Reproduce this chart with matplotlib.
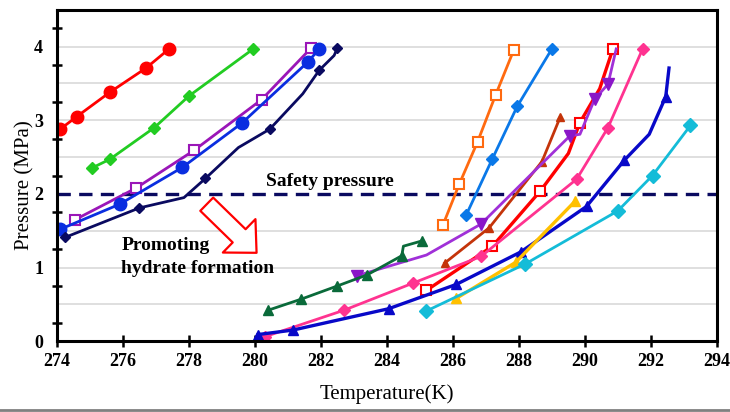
import matplotlib
matplotlib.use('Agg')
import matplotlib.pyplot as plt
from matplotlib.ticker import MultipleLocator, FixedLocator
from matplotlib.lines import Line2D

plt.rcParams['font.family'] = ['Liberation Serif', 'DejaVu Serif']

# temperature (K) / pressure (MPa)
red_T = [274.1, 274.6, 275.6, 276.7, 277.4]
red_P = [2.88, 3.05, 3.38, 3.71, 3.97]

green_T = [275.05, 275.6, 276.95, 278.0, 279.95]
green_P = [2.35, 2.47, 2.90, 3.33, 3.97]

purple_sq_T = [274.55, 276.4, 278.15, 280.2, 281.7]
purple_sq_P = [1.65, 2.08, 2.59, 3.28, 3.98]

blue_circ_T = [274.1, 275.9, 277.8, 279.6, 281.6, 281.95]
blue_circ_P = [1.52, 1.86, 2.36, 2.96, 3.79, 3.97]

navy_T = [274.25, 276.5, 277.85, 278.5, 279.5, 280.45, 281.45, 281.95, 282.4, 282.5]
navy_P = [1.41, 1.81, 1.95, 2.21, 2.63, 2.88, 3.36, 3.68, 3.88, 3.98]
navy_marks = [0, 1, 3, 5, 7, 9]

orange_T = [285.7, 286.2, 286.75, 287.3, 287.85]
orange_P = [1.58, 2.14, 2.71, 3.35, 3.96]

azure_T = [286.4, 287.2, 287.95, 289.0]
azure_P = [1.71, 2.48, 3.19, 3.97]

brown_T = [285.75, 287.1, 288.7, 289.25]
brown_P = [1.06, 1.54, 2.44, 3.04]

redsq_T = [285.2, 287.2, 288.65, 289.5, 289.85, 290.45, 290.85]
redsq_P = [0.69, 1.29, 2.04, 2.55, 2.97, 3.43, 3.97]
redsq_marks = [0, 1, 2, 4, 6]

violet_T = [283.1, 285.2, 286.85, 289.55, 289.85, 290.3, 290.7, 290.95]
violet_P = [0.89, 1.17, 1.59, 2.79, 2.81, 3.29, 3.49, 3.97]
violet_marks = [0, 2, 3, 5, 6]

dkgreen_T = [280.4, 281.4, 282.5, 283.4, 284.45, 284.5, 285.05]
dkgreen_P = [0.42, 0.57, 0.75, 0.90, 1.16, 1.29, 1.36]
dkgreen_marks = [0, 1, 2, 3, 4, 6]

pink_T = [280.3, 282.7, 284.8, 286.85, 289.75, 290.7, 291.75]
pink_P = [0.06, 0.42, 0.79, 1.15, 2.20, 2.90, 3.97]

mblue_T = [280.1, 281.15, 284.05, 286.1, 288.05, 290.05, 291.2, 291.95, 292.45, 292.55]
mblue_P = [0.09, 0.15, 0.44, 0.77, 1.21, 1.83, 2.46, 2.81, 3.32, 3.71]
mblue_marks = [0, 1, 2, 3, 4, 5, 6, 8]

gold_T = [286.1, 287.9, 289.7]
gold_P = [0.58, 1.07, 1.90]

cyan_T = [285.2, 288.2, 291.0, 292.05, 293.2]
cyan_P = [0.41, 1.05, 1.77, 2.25, 2.93]

safety_P = 2.0

fig = plt.figure(figsize=(7.3, 4.12), dpi=100)
ax = fig.add_axes([0.078, 0.172, 0.904, 0.804])

lw = 2.0
ax.plot(red_T, red_P, color='#ff0000', lw=lw, marker='o', ms=9)
ax.plot(green_T, green_P, color='#22cc22', lw=lw, marker='D', ms=6)
ax.plot(purple_sq_T, purple_sq_P, color='#9a16b8', lw=lw, marker='s', ms=7,
        mfc='white', mec='#9a16b8', mew=1.5)
ax.plot(blue_circ_T, blue_circ_P, color='#0a2ee0', lw=lw, marker='o', ms=9)
ax.plot(navy_T, navy_P, color='#0a0a60', lw=lw, marker='D', ms=5.5, markevery=navy_marks)

ax.plot(orange_T, orange_P, color='#ff6a10', lw=lw, marker='s', ms=7,
        mfc='white', mec='#ff6a10', mew=1.5)
ax.plot(azure_T, azure_P, color='#0a78e8', lw=lw, marker='D', ms=6)
ax.plot(brown_T, brown_P, color='#c4340a', lw=lw, marker='^', ms=6)
ax.plot(redsq_T, redsq_P, color='#ff0000', lw=2.4, marker='s', ms=7,
        mfc='white', mec='#ff0000', mew=1.5, markevery=redsq_marks)
ax.plot(violet_T, violet_P, color='#a030d8', lw=lw, marker='v', ms=9, markevery=violet_marks,
        mfc='#8a16c8', mec='#8a16c8')
ax.plot(dkgreen_T, dkgreen_P, color='#0a6a3a', lw=lw, marker='^', ms=6.5, markevery=dkgreen_marks)
ax.plot(pink_T, pink_P, color='#ff3390', lw=lw, marker='D', ms=6)
ax.plot(mblue_T, mblue_P, color='#0808c8', lw=2.4, marker='^', ms=7, markevery=mblue_marks)
ax.plot(gold_T, gold_P, color='#ffc000', lw=2.4, marker='^', ms=7)
ax.plot(cyan_T, cyan_P, color='#14bcd8', lw=lw, marker='D', ms=7)

ax.axhline(safety_P, color='#0a0a60', lw=2.4, ls=(0, (4, 2.5)), zorder=1)

ax.text(280.35, 2.17, 'Safety pressure', fontsize=14, fontweight='bold', va='center', ha='left')
ax.text(275.95, 1.14, 'Promoting\nhydrate formation', fontsize=14, fontweight='bold',
        va='center', ha='left', linespacing=1.45)

ax.annotate('', xy=(280.05, 1.20), xytext=(278.54, 1.86),
            arrowprops=dict(arrowstyle='simple,head_width=2.4,head_length=1.25,tail_width=0.95',
                            fc='white', ec='#ff0000', lw=1.6, shrinkA=0, shrinkB=0,
                            mutation_scale=14))

ax.set_xlim(274, 294)
ax.set_ylim(0, 4.5)
ax.xaxis.set_major_locator(MultipleLocator(2))
ax.yaxis.set_major_locator(FixedLocator([0, 1, 2, 3, 4]))
ax.yaxis.set_minor_locator(FixedLocator([0.25, 0.75, 1.25, 1.75, 2.25, 2.75, 3.25, 3.75, 4.25]))
for g in [0.5, 1, 1.5, 2.5, 3, 3.5, 4]:
    ax.axhline(g, color='#d9d9d9', lw=1.2, zorder=0)

ax.tick_params(axis='x', direction='inout', length=9, width=1.8, labelsize=13, pad=4)
ax.tick_params(axis='y', which='major', length=0, labelsize=13, pad=10)
ax.tick_params(axis='y', which='minor', direction='inout', length=7, width=1.8)
for lab in ax.get_xticklabels() + ax.get_yticklabels():
    lab.set_fontweight('bold')

for s in ax.spines.values():
    s.set_linewidth(2.2)

ax.set_xlabel('Temperature(K)', fontsize=15, labelpad=10)
ax.set_ylabel('Pressure (MPa)', fontsize=15)
ax.yaxis.set_label_coords(-0.034, 0.47)

fig.add_artist(Line2D([0, 1], [0.005, 0.005], color='#808080', lw=2))

fig.savefig('out.png', dpi=100)
